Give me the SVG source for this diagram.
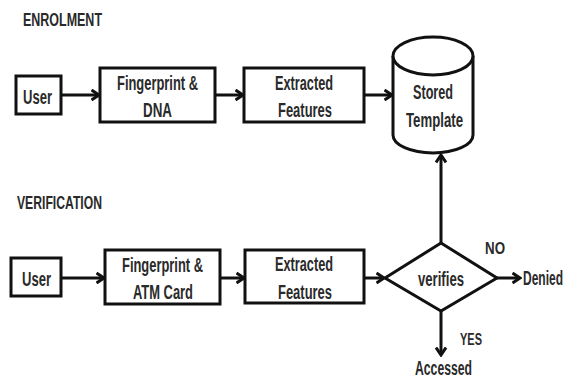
<svg xmlns="http://www.w3.org/2000/svg" width="569" height="379" viewBox="0 0 569 379">
<style>
.b{fill:#fff;stroke:#111;stroke-width:3}
.c{fill:none;stroke:#111;stroke-width:3}
text{font-family:"Liberation Sans",Arial,sans-serif;font-weight:bold;fill:#2a2a2a;font-size:20px}
.h{font-size:18px}
.s{font-size:17px}
</style>
<defs>
<marker id="ah" markerUnits="userSpaceOnUse" viewBox="0 0 10 12" refX="8.5" refY="6" markerWidth="10" markerHeight="12" orient="auto">
<path d="M1,1 L8.5,6 L1,11" fill="none" stroke="#111" stroke-width="3"/>
</marker>
</defs>
<text class="h" x="23" y="26" textLength="79" lengthAdjust="spacingAndGlyphs">ENROLMENT</text>
<text class="h" x="17" y="209" textLength="85" lengthAdjust="spacingAndGlyphs">VERIFICATION</text>
<g id="connectors" class="c" marker-end="url(#ah)">
<line x1="61" y1="95" x2="99" y2="95"/>
<line x1="215" y1="95" x2="243" y2="95"/>
<line x1="364" y1="95" x2="392" y2="95"/>
<line x1="441" y1="243" x2="441" y2="155"/>
<line x1="61" y1="278" x2="104" y2="278"/>
<line x1="220" y1="278" x2="244" y2="278"/>
<line x1="364" y1="278" x2="384" y2="278"/>
<line x1="497" y1="278" x2="520" y2="278"/>
<line x1="441" y1="311" x2="441" y2="355"/>
</g>
<g id="user1"><rect class="b" x="16" y="76" width="45" height="38"/>
<text x="23" y="104" textLength="29" lengthAdjust="spacingAndGlyphs">User</text></g>
<g id="fp1"><rect class="b" x="100" y="68" width="115" height="54"/>
<text x="117" y="90" textLength="81" lengthAdjust="spacingAndGlyphs">Fingerprint &amp;</text>
<text x="143" y="117" textLength="29" lengthAdjust="spacingAndGlyphs">DNA</text></g>
<g id="ef1"><rect class="b" x="244" y="68" width="120" height="54"/>
<text x="275" y="90" textLength="58" lengthAdjust="spacingAndGlyphs">Extracted</text>
<text x="278" y="117" textLength="54" lengthAdjust="spacingAndGlyphs">Features</text></g>
<g id="template">
<path class="b" d="M393,56 L393,135 A40,18 0 0 0 473,135 L473,56"/>
<ellipse class="b" cx="433" cy="56" rx="40" ry="19"/>
<text x="413" y="99" textLength="40" lengthAdjust="spacingAndGlyphs">Stored</text>
<text x="406" y="127" textLength="57" lengthAdjust="spacingAndGlyphs">Template</text></g>
<g id="user2"><rect class="b" x="11" y="258" width="50" height="38"/>
<text x="22" y="286" textLength="29" lengthAdjust="spacingAndGlyphs">User</text></g>
<g id="fp2"><rect class="b" x="105" y="250" width="115" height="54"/>
<text x="122" y="272" textLength="81" lengthAdjust="spacingAndGlyphs">Fingerprint &amp;</text>
<text x="133" y="299" textLength="60" lengthAdjust="spacingAndGlyphs">ATM Card</text></g>
<g id="ef2"><rect class="b" x="245" y="250" width="119" height="53"/>
<text x="275" y="271" textLength="58" lengthAdjust="spacingAndGlyphs">Extracted</text>
<text x="278" y="299" textLength="54" lengthAdjust="spacingAndGlyphs">Features</text></g>
<g id="verifies"><polygon class="b" points="385,278 441,243 497,278 441,311"/>
<text x="418" y="286" textLength="46" lengthAdjust="spacingAndGlyphs">verifies</text></g>
<g id="denied"><text transform="translate(523,285) scale(0.6,1)" x="0" y="0">Denied</text></g>
<g id="accessed"><text x="415" y="375" textLength="57" lengthAdjust="spacingAndGlyphs">Accessed</text></g>
<text class="s" x="485" y="254" textLength="20" lengthAdjust="spacingAndGlyphs">NO</text>
<text class="s" x="460" y="345" textLength="22" lengthAdjust="spacingAndGlyphs">YES</text>
</svg>
